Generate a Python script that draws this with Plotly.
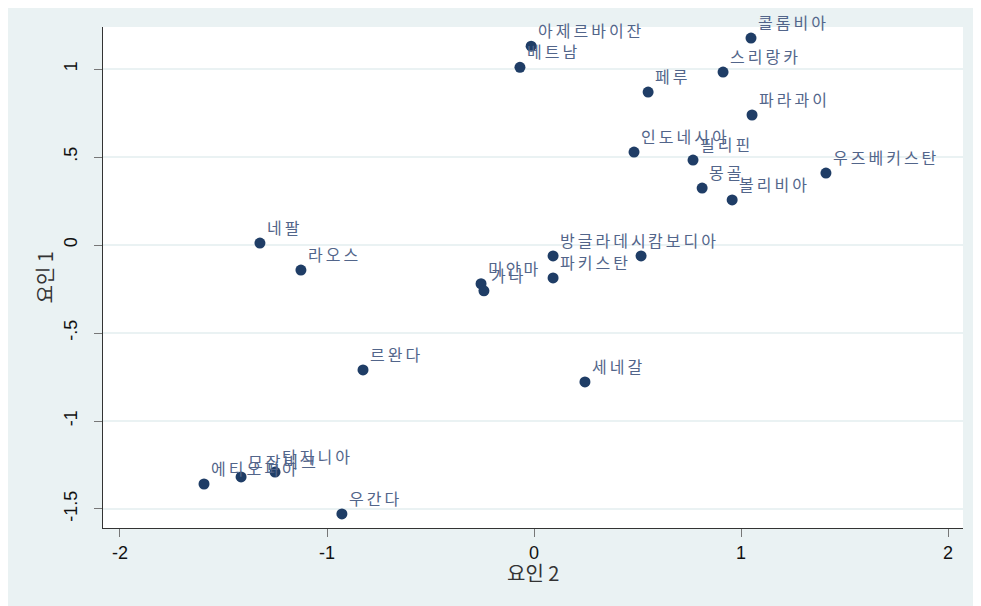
import plotly.graph_objects as go

countries = ["아제르바이잔", "베트남", "콜롬비아", "스리랑카", "페루", "파라과이",
             "인도네시아", "필리핀", "우즈베키스탄", "몽골", "볼리비아",
             "방글라데시", "캄보디아", "파키스탄", "미얀마", "가나",
             "네팔", "라오스", "르완다", "세네갈",
             "에티오피아", "모잠비크", "탄자니아", "우간다"]
factor2 = [-0.014, -0.068, 1.048, 0.913, 0.551, 1.053,
           0.483, 0.768, 1.410, 0.812, 0.957,
           0.092, 0.517, 0.092, -0.256, -0.242,
           -1.324, -1.126, -0.826, 0.246,
           -1.594, -1.415, -1.251, -0.928]
factor1 = [1.130, 1.010, 1.176, 0.983, 0.869, 0.739,
           0.528, 0.483, 0.409, 0.324, 0.256,
           -0.062, -0.062, -0.187, -0.220, -0.260,
           0.011, -0.142, -0.710, -0.778,
           -1.358, -1.318, -1.290, -1.528]

x_ticks = [-2, -1, 0, 1, 2]
x_ticklabels = ["-2", "-1", "0", "1", "2"]
y_ticks = [1, 0.5, 0, -0.5, -1, -1.5]
y_ticklabels = ["1", ".5", "0", "-.5", "-1", "-1.5"]

BG = "#eaf2f3"
NAVY = "#1f3d66"
LABEL = "#52658a"

fig = go.Figure()
fig.add_trace(go.Scatter(
    x=factor2, y=factor1, mode="markers",
    marker=dict(size=11, color=NAVY, line=dict(width=0)),
    hoverinfo="skip", showlegend=False,
))

annotations = []
for name, xv, yv in zip(countries, factor2, factor1):
    annotations.append(dict(
        x=xv, y=yv, xref="x", yref="y",
        text='<span style="letter-spacing:3px">' + name + '</span>',
        showarrow=False,
        xanchor="left", yanchor="bottom", xshift=5, yshift=2,
        font=dict(family="Noto Sans CJK KR", size=16, color=LABEL),
    ))

# axis titles
annotations.append(dict(
    x=0.5, y=-0.088, xref="paper", yref="paper", text="요인 2", showarrow=False,
    xanchor="center", yanchor="middle",
    font=dict(family="Noto Sans CJK KR, Liberation Sans", size=20, color="#333333"),
))
annotations.append(dict(
    x=-0.0675, y=0.5, xref="paper", yref="paper", text="요인 1", showarrow=False,
    xanchor="center", yanchor="middle", textangle=-90,
    font=dict(family="Noto Sans CJK KR, Liberation Sans", size=20, color="#333333"),
))

fig.update_layout(
    width=973, height=598,
    margin=dict(l=95, r=18, t=19, b=78),
    paper_bgcolor=BG, plot_bgcolor="white",
    annotations=annotations,
    xaxis=dict(
        range=[-2.082, 2.072], tickvals=x_ticks, ticktext=x_ticklabels,
        showgrid=False, zeroline=False, showline=True, linecolor="#333333", linewidth=1.2,
        ticks="outside", ticklen=8, tickcolor="#777777", tickwidth=1.2,
        tickfont=dict(family="Liberation Sans, Arial", size=18, color="#111111"),
    ),
    yaxis=dict(
        range=[-1.608, 1.239], tickvals=y_ticks, ticktext=y_ticklabels,
        showgrid=True, gridcolor=BG, gridwidth=1.5,
        zeroline=False, showline=True, linecolor="#333333", linewidth=1.2,
        ticks="outside", ticklen=8, tickcolor="#777777", tickwidth=1.2, tickangle=-90,
        ticklabelstandoff=10,
        tickfont=dict(family="Liberation Sans, Arial", size=18, color="#111111"),
    ),
)

fig.write_html("out.html")
